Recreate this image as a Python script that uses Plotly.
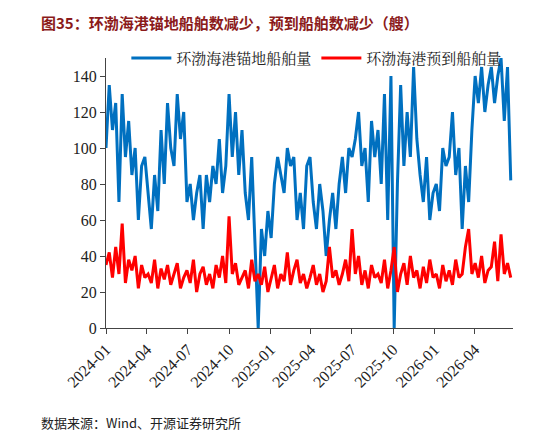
import pandas as pd
import plotly.graph_objects as go

anchor = [100,135,110,125, 70,130,95,115, 85,100,60,90,95, 75,55,85,65, 110,80,125,100,
          90,130,105,120, 70,80,60,75,85, 55,85,70,90, 80,105,75,90, 130,95,120,85,110,
          75,60,95,45, 0,55,40,65,
          50,80,95,85, 75,100,90,95, 60,75,55,90,95, 70,55,80,65, 40,60,75,55,
          80,95,75,100, 95,105,120,90,100, 70,115,95,110, 80,130,60,140,
          0,80,135,90, 120,95,145,105, 85,70,95,60,75,
          80,65,100,90, 95,120,85,100, 55,90,70,110, 140,125,145,120, 135,145,125,140,
          150,115,145,82]
expected = [35,42,28,45,30,58,25,38,32,40,22,35,28,30,25,38,22,33,27,35,24,
            30,36,22,28,32,25,38,20,30,34,24,30,22,35,28,40,25,62,30,36,24,28,
            32,22,38,26,30,24,34,20,
            28,35,22,30,26,42,24,32,38,25,30,22,28,35,24,30,20,26,45,28,32,
            24,30,38,26,55,30,40,24,32,22,35,28,30,25,38,22,32,45,
            20,30,36,24,40,28,32,22,34,25,38,28,30,
            22,35,26,32,24,38,28,30,45,55,30,36,28,40,25,32,34,48,26,52,
            30,36,28,26]

dates = pd.date_range("2024-01-01", "2026-06-20", periods=len(anchor))

fig = go.Figure()
fig.add_trace(go.Scatter(x=dates, y=anchor, mode="lines", name="环渤海港锚地船舶量",
                         line=dict(color="#0070C0", width=3)))
fig.add_trace(go.Scatter(x=dates, y=expected, mode="lines", name="环渤海港预到船舶量",
                         line=dict(color="#FF0000", width=3)))
tickvals = pd.date_range("2024-01-01", "2026-04-01", freq="QS")
fig.update_layout(
    width=546, height=436, paper_bgcolor="white", plot_bgcolor="white",
    margin=dict(l=98, r=41, t=50, b=116),
    font=dict(family="Liberation Serif, Noto Sans CJK SC", size=16, color="#222"),
    legend=dict(orientation="h", x=0.05, y=1.06, xanchor="left", yanchor="top",
                font=dict(size=15, family="Noto Serif CJK SC, Noto Sans CJK SC"),
                bgcolor="rgba(0,0,0,0)", itemwidth=40),
    xaxis=dict(range=["2024-01-01", "2026-06-25"], tickvals=tickvals,
               ticktext=[d.strftime("%Y-%m") for d in tickvals], tickangle=-45,
               showgrid=False, showline=True, linecolor="#444", ticks="outside",
               tickcolor="#444", ticklen=5),
    yaxis=dict(range=[0, 150], tickvals=list(range(0, 141, 20)), showgrid=False,
               showline=True, linecolor="#444", ticks="outside", tickcolor="#444", ticklen=5),
    annotations=[
        dict(text="<b>图35：环渤海港锚地船舶数减少，预到船舶数减少（艘）</b>", xref="paper", yref="paper",
             x=-0.165, y=1.13, xanchor="left", yanchor="middle", showarrow=False,
             font=dict(family="Noto Sans CJK SC", size=15, color="#8B1A1A")),
        dict(text="数据来源：Wind、开源证券研究所", xref="paper", yref="paper",
             x=-0.165, y=-0.35, xanchor="left", yanchor="middle", showarrow=False,
             font=dict(family="Noto Sans CJK SC", size=13, color="#222")),
    ],
)
fig.write_html("out.html")
